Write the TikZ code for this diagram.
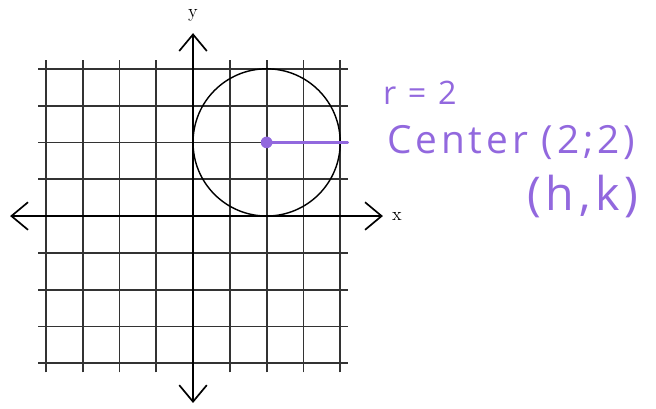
\documentclass[tikz,border=0pt]{standalone}
\usepackage{fontspec}
\usepackage{xcolor}
\usetikzlibrary{arrows.meta}
\newfontfamily\handfont[LetterSpace=10]{Open Sans}
\definecolor{pen}{RGB}{146,104,222}

\begin{document}
\begin{tikzpicture}[x=1cm,y=1cm,
  gridline/.style={black!80,line width=1.4pt},
  axis/.style={line width=1.4pt,{Straight Barb[length=4.5mm,width=7.5mm,line width=1.3pt]}-{Straight Barb[length=4.5mm,width=7.5mm,line width=1.3pt]}},
  handtext/.style={pen,anchor=west,inner sep=0pt}]
\useasboundingbox (-5.245,-5.217) rectangle (12.58,5.87);

\foreach \i in {-4,...,4} {
  \draw[gridline] (\i,-4.25) -- (\i,4.25);
  \draw[gridline] (-4.2,\i) -- (4.2,\i);
}

\draw[axis] (-4.97,0) -- (5.16,0);
\draw[axis] (0,-5.08) -- (0,4.97);
\node (ylab) at (0,5.46) {\Large y};
\node (xlab) at (5.54,0) {\Large x};

\draw[line width=1.1pt] (2,2) circle (2);

\coordinate (ctr) at (2,2);
\coordinate (radend) at (4.2,2);
\draw[pen,line width=2.2pt,line cap=round] (ctr) -- (radend);
\fill[pen] (ctr) circle (4.5pt);

\node[handtext,font=\handfont\fontsize{25}{30}\selectfont] (rad) at (5.16,3.34) {r = 2};
\node[handtext,font=\handfont\fontsize{30}{34}\selectfont] (cen) at (5.27,2.01) {Center (2;2)};
\node[handtext,font=\handfont\fontsize{36}{40}\selectfont] (hk) at (9.08,0.54) {(h,k)};
\end{tikzpicture}
\end{document}
